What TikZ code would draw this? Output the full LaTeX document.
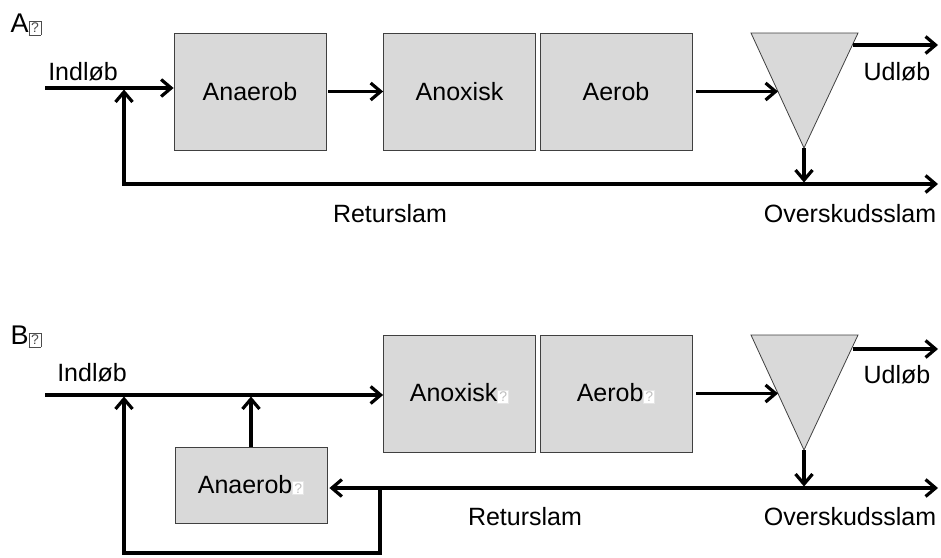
\documentclass[tikz,border=0pt]{standalone}
\usepackage{fontspec}
\setmainfont{Liberation Sans}
\usetikzlibrary{arrows.meta}
% small boxed "?" standing in for an unavailable glyph
\newcommand{\glyphbox}[3]{{\setlength{\fboxsep}{#3}\setlength{\fboxrule}{0.8pt}\fcolorbox{#1}{white}{\fontsize{14}{14}\selectfont\textcolor{#2}{?}}}}
\begin{document}
\begin{tikzpicture}[x=1pt,y=-1pt,
  every node/.style={font=\fontsize{25}{30}\selectfont, inner sep=0pt},
  panel/.style={font=\fontsize{27}{30}\selectfont},
  tank/.style={draw=black!75, line width=0.8pt, fill=black!15, minimum width=152pt, minimum height=117pt},
  settler/.style={draw=black!75, line width=0.8pt, fill=black!15},
  flow/.style={line width=3.2pt, line join=miter, -{Straight Barb[length=10pt,width=17pt]}},
  flowboth/.style={line width=3.2pt, line join=miter, {Straight Barb[length=10pt,width=17pt]}-{Straight Barb[length=10pt,width=17pt]}}]
\useasboundingbox (0,0) rectangle (941,557);

% ---------------- Process A ----------------
\node[panel] (labA) at (26,25) {A\glyphbox{black!70}{black!70}{1.8pt}};
\node[tank] (anaA) at (250,91.5) {Anaerob};
\node[tank] (anoxA) at (459.5,91.5) {Anoxisk};
\node[tank] (aerA) at (616,91.5) {Aerob};
\coordinate (tAl) at (751,33);
\coordinate (tAr) at (858,33);
\coordinate (tAb) at (804,148);
\draw[settler] (tAl) -- (tAr) -- (tAb) -- cycle;
\coordinate (tAin) at (778,91.5);
\coordinate (tAout) at (853,45);
\coordinate (udA) at (938,45);

\coordinate (inA) at (45,88);
\coordinate (jA) at (124,88);
\coordinate (retA) at (124,184);
\coordinate (sA) at (804,184);
\coordinate (endA) at (938,184);

\draw[flow] (inA) -- (inA -| anaA.west);
\draw[flowboth, shorten <=1.5pt] (jA) -- (retA) -- (endA);
\draw[flow, shorten <=2pt] (anaA.east) -- (anoxA.west);
\draw[flow, shorten <=4pt] (aerA.east) -- (tAin);
\draw[flow] (tAout) -- (udA);
\draw[flow, shorten >=1.5pt] (tAb) -- (sA);

\node (inlA) at (83,72) {Indløb};
\node (udlA) at (897,72) {Udløb};
\node (retlA) at (390,214) {Returslam};
\node (ovlA) at (850,214) {Overskudsslam};

% ---------------- Process B ----------------
\node[panel] (labB) at (26,337) {B\glyphbox{black!70}{black!70}{1.8pt}};
\node[tank] (anoxB) at (459.5,393.5) {Anoxisk\glyphbox{black!10}{black!25}{1.2pt}};
\node[tank] (aerB) at (616,393.5) {Aerob\glyphbox{black!10}{black!25}{1.2pt}};
\node[tank, minimum height=76pt] (anaB) at (251,485) {Anaerob\glyphbox{black!10}{black!25}{1.2pt}};
\coordinate (tBl) at (751,335);
\coordinate (tBr) at (858,335);
\coordinate (tBb) at (804,450);
\draw[settler] (tBl) -- (tBr) -- (tBb) -- cycle;
\coordinate (tBin) at (778,393.5);
\coordinate (tBout) at (853,349);
\coordinate (udB) at (938,349);

\coordinate (inB) at (45,395);
\coordinate (jB) at (124,395);
\coordinate (rB) at (380,488);
\coordinate (loopR) at (380,553);
\coordinate (loopL) at (124,553);
\coordinate (sB) at (804,488);
\coordinate (endB) at (938,488);

\draw[flow] (inB) -- (inB -| anoxB.west);
\draw[flow, shorten >=1.5pt] (anaB.north) -- (anaB.north |- inB);
\draw[flowboth, shorten <=2pt] (anaB.east |- rB) -- (endB);
\draw[flow, shorten >=1.5pt] (rB) -- (loopR) -- (loopL) -- (jB);
\draw[flow, shorten <=4pt] (aerB.east) -- (tBin);
\draw[flow] (tBout) -- (udB);
\draw[flow, shorten >=1.5pt] (tBb) -- (sB);

\node (inlB) at (92,373) {Indløb};
\node (udlB) at (897,375) {Udløb};
\node (retlB) at (525,517) {Returslam};
\node (ovlB) at (850,517) {Overskudsslam};
\end{tikzpicture}
\end{document}
